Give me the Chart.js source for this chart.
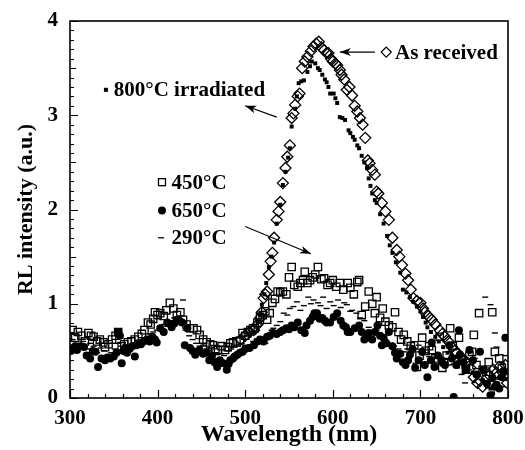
<!DOCTYPE html>
<html>
<head>
<meta charset="utf-8">
<script src="https://cdn.jsdelivr.net/npm/chart.js@4.4.1/dist/chart.umd.min.js"></script>
<style>
  html, body { margin: 0; padding: 0; background: #fff; }
  #wrap { width: 525px; height: 450px; }
</style>
</head>
<body>
<div id="wrap"><canvas id="chart" width="525" height="450"></canvas></div>
<script>
// axis ticks
const xTicks = [300, 400, 500, 600, 700, 800];
const yTicks = [0, 1, 2, 3, 4];

// [wavelength nm, RL intensity]
const asReceived = [
  [495,0.62],[500,0.66],[505,0.70],[510,0.72],[514,0.78],[517,0.85],[519,0.91],[521,1.06],[523,1.10],[525,1.13],
  [527,1.31],[529,1.45],[531,1.54],[533,1.70],[536,1.89],[538,1.98],[540,2.08],[543,2.28],[546,2.44],[548,2.56],
  [551,2.68],[553,2.97],[555,3.02],[557,3.11],[560,3.20],[562,3.23],[565,3.50],[568,3.57],[571,3.62],[575,3.68],
  [578,3.73],[581,3.76],[584,3.78],[587,3.72],[590,3.69],[593,3.66],[595,3.66],[598,3.60],[600,3.57],[603,3.55],
  [605,3.53],[608,3.48],[610,3.43],[613,3.38],[616,3.27],[619,3.30],[622,3.21],[625,3.10],[628,3.04],[631,2.97],
  [634,2.90],[637,2.76],[640,2.52],[642,2.49],[645,2.42],[648,2.37],[650,2.19],[652,2.17],[656,2.07],[660,1.98],
  [664,1.89],[668,1.70],[673,1.57],[676,1.50],[679,1.41],[683,1.32],[686,1.25],[689,1.15],[692,1.06],[696,1.03],
  [700,1.01],[703,0.95],[705,0.91],[709,0.87],[713,0.83],[717,0.78],[722,0.72],[725,0.68],[728,0.65],[732,0.60],
  [736,0.54],[739,0.50],[742,0.48],[746,0.44],[750,0.40],[753,0.38],[757,0.32],[761,0.22],[765,0.16],[768,0.18],
  [771,0.12],[775,0.20],[779,0.24],[783,0.30],[787,0.27],[790,0.33],[794,0.27],[797,0.35],[799,0.16]
];

const irradiated800 = [
  [505,0.66],[510,0.70],[514,0.80],[517,0.88],[519,0.99],[522,1.10],[524,1.22],[527,1.39],[530,1.50],[533,1.65],
  [536,1.85],[540,2.05],[543,2.26],[546,2.40],[549,2.55],[551,2.65],[553,2.88],[557,3.07],[559,3.20],[561,3.34],
  [564,3.36],[567,3.37],[571,3.46],[574,3.52],[576,3.57],[580,3.55],[583,3.50],[585,3.48],[588,3.43],[591,3.38],
  [593,3.35],[595,3.30],[597,3.23],[601,3.23],[603,3.18],[605,3.13],[608,2.98],[611,2.97],[614,2.95],[618,2.84],
  [620,2.81],[623,2.77],[625,2.74],[628,2.68],[630,2.65],[633,2.57],[636,2.50],[639,2.44],[641,2.33],[643,2.25],
  [645,2.17],[648,2.10],[650,2.07],[654,1.95],[658,1.85],[662,1.72],[665,1.62],[668,1.54],[672,1.44],[677,1.33],
  [680,1.15],[684,1.12],[688,1.07],[692,1.02],[696,0.97],[700,0.92],[703,0.86],[706,0.80],[708,0.75],[712,0.70],
  [717,0.65],[721,0.60],[726,0.54],[731,0.48],[737,0.42],[743,0.38],[749,0.33],[754,0.30],[760,0.27],[765,0.23],
  [771,0.19],[776,0.12],[780,0.10],[783,0.05],[787,0.15],[790,0.22],[794,0.37],[797,0.20]
];

const anneal450 = [
  [303,0.72],[306,0.64],[309,0.70],[313,0.66],[317,0.60],[321,0.69],[324,0.66],[327,0.65],[331,0.60],[334,0.62],
  [338,0.59],[340,0.54],[344,0.57],[348,0.62],[352,0.66],[355,0.70],[359,0.55],[362,0.57],[366,0.59],[370,0.60],
  [374,0.62],[378,0.65],[382,0.68],[385,0.72],[389,0.80],[392,0.78],[395,0.84],[397,0.91],[400,0.88],[403,0.90],
  [407,0.87],[410,0.93],[414,1.01],[418,0.95],[422,0.88],[426,0.91],[429,0.83],[433,0.78],[437,0.74],[441,0.74],
  [445,0.72],[448,0.67],[452,0.62],[456,0.59],[460,0.57],[463,0.56],[466,0.52],[469,0.51],[473,0.55],[477,0.51],
  [480,0.54],[483,0.58],[486,0.59],[490,0.60],[494,0.61],[497,0.69],[500,0.66],[503,0.70],[506,0.72],[509,0.74],
  [511,0.74],[514,0.80],[517,0.86],[520,0.88],[523,0.92],[525,0.83],[528,0.90],[531,1.01],[534,1.05],[537,1.13],
  [540,1.12],[543,1.13],[547,1.10],[550,1.28],[553,1.39],[556,1.20],[560,1.18],[563,1.22],[566,1.25],[568,1.34],
  [571,1.22],[574,1.25],[577,1.28],[580,1.31],[583,1.39],[587,1.26],[590,1.27],[594,1.20],[597,1.22],[600,1.25],
  [604,1.18],[608,1.22],[612,1.15],[617,1.22],[620,1.17],[624,1.10],[628,1.23],[630,1.25],[633,0.88],[637,0.97],
  [641,1.13],[645,1.00],[648,0.90],[650,1.07],[654,0.85],[657,0.95],[660,0.81],[664,0.77],[668,0.75],[671,0.91],
  [675,0.70],[678,0.62],[681,0.67],[685,0.60],[689,0.55],[693,0.56],[696,0.33],[699,0.45],[702,0.64],[706,0.50],
  [710,0.55],[713,0.51],[717,0.42],[720,0.40],[722,0.65],[725,0.32],[727,0.38],[730,0.45],[734,0.74],[737,0.55],
  [740,0.48],[744,0.64],[748,0.40],[752,0.30],[756,0.45],[759,0.49],[761,0.67],[764,0.35],[767,0.90],[771,0.30],
  [775,0.28],[778,0.38],[782,0.91],[785,0.49],[790,0.42],[793,0.32],[797,0.25]
];

const anneal650 = [
  [301,0.50],[303,0.53],[306,0.55],[308,0.51],[312,0.55],[316,0.54],[319,0.45],[323,0.42],[326,0.50],[329,0.49],
  [332,0.33],[336,0.42],[340,0.40],[343,0.43],[346,0.42],[350,0.44],[353,0.48],[355,0.70],[357,0.66],[359,0.37],
  [361,0.50],[363,0.53],[365,0.48],[368,0.52],[371,0.55],[374,0.44],[376,0.56],[378,0.58],[381,0.57],[384,0.60],
  [388,0.62],[391,0.60],[394,0.65],[397,0.62],[399,0.59],[403,0.74],[407,0.70],[411,0.80],[416,0.75],[419,0.79],
  [422,0.83],[425,0.82],[428,0.80],[431,0.56],[434,0.74],[437,0.53],[440,0.50],[443,0.46],[446,0.49],[448,0.51],
  [452,0.47],[456,0.48],[459,0.40],[462,0.44],[465,0.38],[468,0.33],[471,0.40],[475,0.37],[479,0.30],[481,0.36],
  [483,0.40],[486,0.42],[488,0.44],[491,0.46],[494,0.48],[497,0.49],[500,0.52],[505,0.53],[510,0.56],[514,0.60],
  [517,0.62],[521,0.60],[525,0.65],[528,0.66],[532,0.69],[536,0.68],[540,0.70],[543,0.72],[547,0.74],[550,0.73],
  [553,0.77],[556,0.75],[560,0.80],[564,0.72],[568,0.69],[570,0.77],[574,0.82],[577,0.86],[579,0.90],[582,0.90],
  [585,0.84],[588,0.85],[591,0.82],[593,0.80],[597,0.80],[601,0.86],[605,0.90],[609,0.82],[612,0.77],[615,0.75],
  [617,0.70],[620,0.70],[625,0.74],[630,0.77],[633,0.70],[636,0.62],[639,0.64],[641,0.69],[645,0.62],[648,0.70],
  [651,0.77],[654,0.66],[656,0.56],[658,0.64],[661,0.58],[664,0.70],[668,0.55],[671,0.48],[673,0.42],[677,0.47],
  [680,0.38],[683,0.35],[686,0.40],[688,0.46],[691,0.52],[694,0.32],[698,0.40],[702,0.49],[705,0.35],[708,0.22],
  [712,0.40],[713,0.59],[716,0.33],[720,0.45],[724,0.40],[728,0.35],[733,0.56],[736,0.42],[738,0.01],[741,0.35],
  [744,0.72],[745,0.46],[749,0.38],[752,0.30],[756,0.51],[760,0.40],[764,0.25],[768,0.49],[772,0.30],[776,0.15],
  [780,0.03],[782,0.21],[785,0.12],[787,0.14],[790,0.10],[793,0.22],[795,0.28],[797,0.64]
];

const anneal290 = [
  [303,0.62],[307,0.58],[311,0.55],[315,0.60],[319,0.52],[323,0.58],[327,0.55],[331,0.48],[335,0.53],[339,0.50],
  [343,0.46],[347,0.48],[351,0.52],[355,0.58],[359,0.55],[363,0.56],[367,0.50],[371,0.55],[375,0.58],[379,0.55],
  [383,0.62],[387,0.64],[391,0.68],[395,0.70],[399,0.72],[403,0.75],[407,0.78],[411,0.76],[415,0.82],[419,0.85],
  [423,0.82],[426,0.78],[429,1.04],[432,0.72],[436,0.66],[440,0.62],[444,0.58],[448,0.55],[452,0.56],[456,0.52],
  [460,0.50],[464,0.48],[468,0.46],[472,0.47],[476,0.45],[480,0.50],[484,0.52],[488,0.54],[492,0.55],[496,0.58],
  [500,0.56],[505,0.56],[509,0.60],[513,0.62],[517,0.65],[520,0.58],[523,0.58],[527,0.66],[530,0.72],[532,0.74],
  [536,0.77],[540,0.81],[544,0.90],[548,0.88],[551,0.95],[555,0.97],[559,1.02],[563,0.93],[567,0.98],[572,1.07],
  [575,1.00],[578,1.04],[583,1.01],[586,0.98],[589,1.07],[593,0.95],[597,1.02],[601,0.98],[606,1.04],[609,0.96],
  [613,1.01],[616,0.99],[620,0.92],[622,0.93],[627,0.90],[631,0.85],[636,0.82],[641,0.75],[645,0.69],[650,0.72],
  [655,0.66],[660,0.62],[665,0.58],[670,0.55],[675,0.52],[681,0.49],[685,0.52],[690,0.48],[694,0.52],[698,0.56],
  [702,0.46],[706,0.48],[710,0.44],[715,0.42],[720,0.45],[725,0.40],[729,0.38],[733,0.35],[738,0.36],[742,0.32],
  [747,0.25],[751,0.16],[755,0.30],[758,0.35],[762,0.42],[766,0.25],[770,0.30],[774,1.07],[777,0.28],[780,0.99],
  [783,0.20],[785,0.69],[787,0.54],[790,0.20],[794,0.12],[797,0.45]
];

const serif = '"Liberation Serif", "Times New Roman", serif';

function pts(pairs) {
  return pairs.map(p => ({ x: p[0], y: p[1] }));
}

function drawMarker(ctx, kind, x, y) {
  ctx.beginPath();
  if (kind === 'diamond') {
    ctx.moveTo(x, y - 5); ctx.lineTo(x + 5, y); ctx.lineTo(x, y + 5); ctx.lineTo(x - 5, y); ctx.closePath();
    ctx.stroke();
  } else if (kind === 'square') {
    ctx.strokeRect(x - 3.5, y - 3.5, 7, 7);
  } else if (kind === 'dot') {
    ctx.arc(x, y, 4, 0, Math.PI * 2); ctx.fill();
  } else if (kind === 'small') {
    ctx.fillRect(x - 2, y - 2, 4, 4);
  } else if (kind === 'dash') {
    ctx.moveTo(x - 3, y); ctx.lineTo(x + 3, y); ctx.stroke();
  }
}

function arrow(ctx, x1, y1, x2, y2) {
  const a = Math.atan2(y2 - y1, x2 - x1);
  ctx.beginPath();
  ctx.moveTo(x1, y1); ctx.lineTo(x2, y2); ctx.stroke();
  ctx.beginPath();
  ctx.moveTo(x2, y2);
  ctx.lineTo(x2 - 11 * Math.cos(a) + 4 * Math.sin(a), y2 - 11 * Math.sin(a) - 4 * Math.cos(a));
  ctx.lineTo(x2 - 8 * Math.cos(a), y2 - 8 * Math.sin(a));
  ctx.lineTo(x2 - 11 * Math.cos(a) - 4 * Math.sin(a), y2 - 11 * Math.sin(a) + 4 * Math.cos(a));
  ctx.closePath();
  ctx.fill();
}

const frame = {
  id: 'frame',
  afterDraw(chart) {
    const { ctx, chartArea: a, scales: { x, y } } = chart;
    ctx.save();
    ctx.strokeStyle = '#000';
    ctx.fillStyle = '#000';

    // box
    ctx.lineWidth = 1.6;
    ctx.strokeRect(a.left, a.top, a.right - a.left, a.bottom - a.top);

    // inward ticks
    ctx.lineWidth = 1.2;
    ctx.beginPath();
    for (let v = x.min; v <= x.max; v += 20) {
      const px = Math.round(x.getPixelForValue(v)) + 0.5;
      const len = v % 100 === 0 ? 8 : 4;
      ctx.moveTo(px, a.bottom);
      ctx.lineTo(px, a.bottom - len);
    }
    for (let i = 0; i <= 40; i++) {
      const py = Math.round(y.getPixelForValue(i / 10)) + 0.5;
      const len = i % 10 === 0 ? 8 : (i % 5 === 0 ? 6 : 4);
      ctx.moveTo(a.left, py);
      ctx.lineTo(a.left + len, py);
    }
    ctx.stroke();

    // annotations (placed in data units)
    const notes = [
      { kind: 'diamond', nm: 661, v: 3.67, text: 'As received', tx: 671 },
      { kind: 'small', nm: 341, v: 3.27, text: '800°C irradiated', tx: 350 },
      { kind: 'square', nm: 405, v: 2.29, text: '450°C', tx: 416 },
      { kind: 'dot', nm: 405, v: 1.99, text: '650°C', tx: 416 },
      { kind: 'dash', nm: 404, v: 1.70, text: '290°C', tx: 416 }
    ];
    ctx.font = 'bold 21px ' + serif;
    ctx.textBaseline = 'middle';
    ctx.textAlign = 'left';
    ctx.lineWidth = 1.3;
    notes.forEach(n => {
      const px = x.getPixelForValue(n.nm);
      const py = y.getPixelForValue(n.v);
      drawMarker(ctx, n.kind, px, py);
      ctx.fillText(n.text, x.getPixelForValue(n.tx), py + 1);
    });

    ctx.lineWidth = 1.1;
    const arrows = [
      [648, 3.67, 608, 3.67],
      [536, 2.98, 500, 3.10],
      [500, 1.82, 575, 1.53]
    ];
    arrows.forEach(r => {
      arrow(ctx, x.getPixelForValue(r[0]), y.getPixelForValue(r[1]),
        x.getPixelForValue(r[2]), y.getPixelForValue(r[3]));
    });
    ctx.restore();
  }
};

const clear = 'rgba(0,0,0,0)';

new Chart(document.getElementById('chart'), {
  type: 'scatter',
  data: {
    datasets: [
      {
        label: '800°C irradiated',
        data: pts(irradiated800),
        pointStyle: 'rect',
        pointRadius: 2.8,
        backgroundColor: '#000',
        borderColor: '#000',
        borderWidth: 0
      },
      {
        label: 'As received',
        data: pts(asReceived),
        pointStyle: 'rectRot',
        pointRadius: 5.5,
        backgroundColor: clear,
        borderColor: '#000',
        borderWidth: 1.3
      },
      {
        label: '290°C',
        data: pts(anneal290),
        pointStyle: 'line',
        pointRadius: 3,
        backgroundColor: '#000',
        borderColor: '#000',
        borderWidth: 1.4
      },
      {
        label: '450°C',
        data: pts(anneal450),
        pointStyle: 'rect',
        pointRadius: 5.2,
        backgroundColor: clear,
        borderColor: '#000',
        borderWidth: 1.3
      },
      {
        label: '650°C',
        data: pts(anneal650),
        pointStyle: 'circle',
        pointRadius: 4,
        backgroundColor: '#000',
        borderColor: '#000',
        borderWidth: 0
      }
    ]
  },
  options: {
    responsive: false,
    animation: false,
    events: [],
    layout: {
      padding: { left: 0, right: 17, top: 21, bottom: 0 }
    },
    plugins: {
      legend: { display: false },
      tooltip: { enabled: false }
    },
    scales: {
      x: {
        type: 'linear',
        min: 300,
        max: 800,
        afterBuildTicks: s => { s.ticks = xTicks.map(v => ({ value: v })); },
        afterFit: s => { s.height = 52; s.paddingLeft = 0; s.paddingRight = 0; },
        grid: { display: false, drawTicks: false },
        border: { display: false },
        ticks: {
          color: '#000',
          padding: 8,
          maxRotation: 0,
          font: { family: serif, size: 21, weight: 'bold' }
        },
        title: {
          display: true,
          text: 'Wavelength (nm)',
          color: '#000',
          padding: { top: 0, bottom: 1 },
          font: { family: serif, size: 24, weight: 'bold' }
        }
      },
      y: {
        type: 'linear',
        min: 0,
        max: 4,
        afterBuildTicks: s => { s.ticks = yTicks.map(v => ({ value: v })); },
        afterFit: s => { s.width = 70; s.paddingTop = 0; s.paddingBottom = 0; },
        grid: { display: false, drawTicks: false },
        border: { display: false },
        ticks: {
          color: '#000',
          padding: 12,
          font: { family: serif, size: 21, weight: 'bold' }
        },
        title: {
          display: true,
          text: 'RL intensity (a.u.)',
          color: '#000',
          padding: { top: 13, bottom: 0 },
          font: { family: serif, size: 22, weight: 'bold' }
        }
      }
    }
  },
  plugins: [frame]
});
</script>
</body>
</html>
